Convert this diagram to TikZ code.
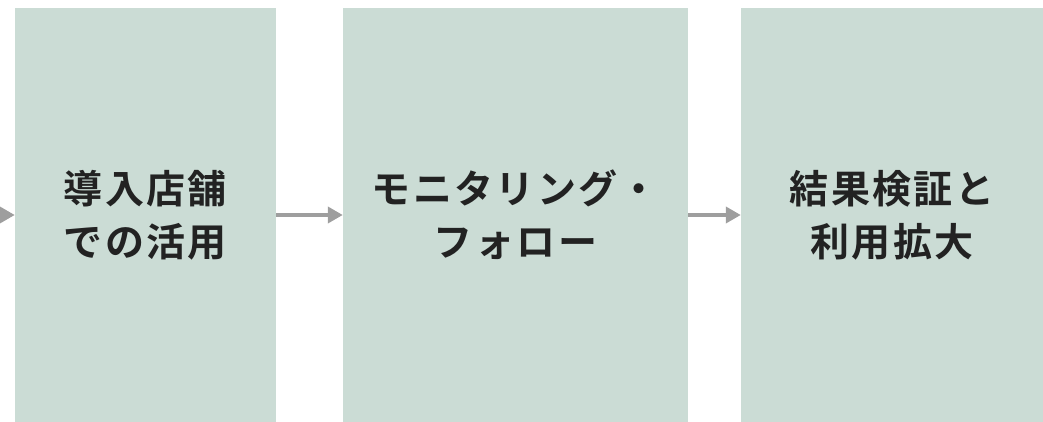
\documentclass[tikz,border=0pt]{standalone}
\usepackage{fontspec}
\newfontfamily\jpfont[LetterSpace=6]{Noto Sans CJK JP Bold}
\usepackage{tikz}
\usetikzlibrary{arrows.meta,positioning}
\definecolor{stepfill}{HTML}{CBDCD5}
\definecolor{steptext}{HTML}{222222}
\definecolor{flowgray}{HTML}{9E9E9E}
\tikzset{%
  step box/.style={%
    fill=stepfill,
    draw=none,
    minimum height=414pt,
    inner sep=0pt,
    align=center,
    text=steptext,
    font=\jpfont\fontsize{39}{53}\selectfont
  }
}
\tikzset{%
  flow arrow/.style={%
    draw=flowgray,
    line width=4.3pt,
    -{Triangle[length=15pt,width=16pt]}
  }
}

\begin{document}
\begin{tikzpicture}[x=1pt,y=-1pt]
  \useasboundingbox (0,0) rectangle (1043,422);
  \node[step box, minimum width=261pt] (use) at (145.5, 215) {導入店舗\\での活用};
  \node[step box, minimum width=345pt] (monitor) at (515.5, 215) {モニタリング・\\フォロー};
  \node[step box, minimum width=302pt] (verify) at (892, 215) {結果検証と\\利用拡大};
  \coordinate (prev) at (-10, 215);
  \draw [flow arrow] (prev) -- (use.west);
  \draw [flow arrow] (use.east) -- (monitor.west);
  \draw [flow arrow] (monitor.east) -- (verify.west);
\end{tikzpicture}
\end{document}
